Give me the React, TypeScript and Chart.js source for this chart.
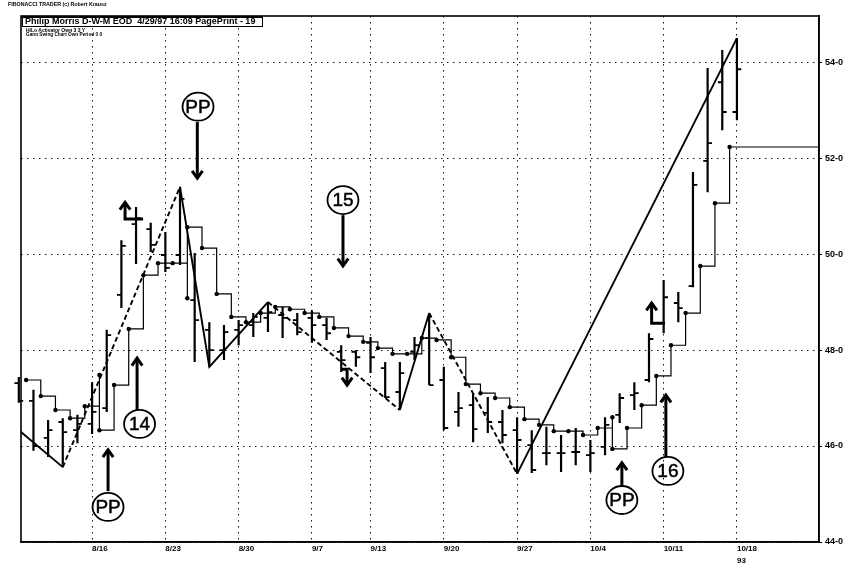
import React, { useEffect, useRef } from 'react';
import { Chart, registerables } from 'chart.js';

Chart.register(...registerables);

// ---------- data ----------
const dates = ['8/9','8/10','8/11','8/12','8/13','8/16','8/17','8/18','8/19','8/20','8/23','8/24','8/25','8/26','8/27','8/30','8/31','9/1','9/2','9/3','9/7','9/8','9/9','9/10','9/13','9/14','9/15','9/16','9/17','9/20','9/21','9/22','9/23','9/24','9/27','9/28','9/29','9/30','10/1','10/4','10/5','10/6','10/7','10/8','10/11','10/12','10/13','10/14','10/15','10/18'];

const opens = [47.31,46.94,46.17,46.50,46.33,46.46,46.79,49.15,50.625,50.52,49.98,49.98,49.04,48.42,48.0,48.42,48.52,48.67,48.73,48.625,48.67,48.52,47.96,47.96,48.15,47.625,47.125,47.96,48.25,47.375,46.71,46.85,46.69,46.50,46.33,46.02,45.85,45.85,45.875,45.81,45.98,46.65,47.06,47.375,48.56,48.98,49.33,51.94,53.58,52.96];
const highs = [47.44,47.17,46.54,46.58,46.65,47.33,48.42,50.29,50.98,50.65,50.46,51.40,50.02,48.58,48.52,48.625,48.77,49.0,48.90,48.77,48.83,48.67,48.10,48.0,48.27,47.75,47.75,48.27,48.77,47.65,47.125,47.10,47.02,46.75,46.60,46.33,46.40,46.23,46.375,46.125,46.60,47.10,47.33,48.35,49.46,49.21,51.71,53.875,54.25,54.5];
const lows = [46.90,45.90,45.77,45.56,46.06,46.25,46.71,48.875,49.79,50.04,49.625,49.77,47.75,47.65,47.79,48.10,48.27,48.375,48.25,48.31,48.15,48.21,47.54,47.65,47.52,47.0,46.75,47.79,47.27,46.33,46.40,46.08,46.27,46.06,45.42,45.44,45.60,45.46,45.60,45.46,45.81,46.48,46.75,47.33,48.35,48.58,49.31,51.29,52.58,52.79];
const closes = [46.94,46.0,46.33,46.29,46.46,46.71,48.31,50.17,50.75,50.19,49.71,51.15,48.625,48.0,48.375,48.52,48.69,48.79,48.67,48.375,48.52,48.35,47.79,47.85,47.85,47.02,47.52,48.10,47.27,46.375,46.79,46.35,46.50,46.23,46.125,45.5,45.85,45.85,45.875,45.85,46.44,47.0,47.10,48.23,49.10,48.875,51.44,52.31,52.96,53.85];

const xTickDates = ['8/16','8/23','8/30','9/7','9/13','9/20','9/27','10/4','10/11','10/18'];
const yearLabel = '93';
const yTicks = [44, 46, 48, 50, 52, 54];

// HiLo activator (bar index at which each step point sits, value)
const stairAt = [0,1,2,3,4,5,5,6,7,8,9,10,11,11,12,13,14,15,16,17,18,19,20,21,22,23,24,25,26,27,28,29,30,31,32,33,34,35,36,37,38,39,40,40,41,42,43,44,45,46,47,48];
const stairValue = [47.375,47.04,46.75,46.58,46.83,47.48,46.33,47.27,48.44,49.56,49.81,49.81,49.08,50.56,50.125,49.17,48.69,48.58,48.77,48.90,48.85,48.77,48.69,48.46,48.29,48.17,48.04,47.92,47.92,48.25,48.21,47.85,47.29,47.10,47.0,46.81,46.56,46.44,46.31,46.31,46.23,46.375,46.60,45.94,46.375,46.85,47.46,48.10,48.77,49.75,51.06,52.23];

// Gann swing chart
const swingAt = [0, 3, 11, 13, 17, 26, 28, 34, 49];
const swingValue = [46.33, 45.56, 51.40, 47.65, 49.0, 46.75, 48.77, 45.42, 54.5];
const swingDashed = [false, true, false, false, true, false, true, false];

// hand-drawn notes (data coordinates: bar index, price)
const noteLabels = ['PP', '14', 'PP', '15', 'PP', '16'];
const noteX = [12.23, 8.24, 6.09, 22.12, 41.15, 44.29];
const noteY = [53.07, 46.46, 44.73, 51.125, 44.875, 45.48];
const noteArrows: number[][][] = [
  [[12.18, 52.75], [12.18, 51.58]],
  [[8.07, 46.75], [8.07, 47.83]],
  [[6.09, 45.06], [6.09, 45.92]],
  [[22.12, 50.81], [22.12, 49.75]],
  [[41.15, 45.17], [41.15, 45.65]],
  [[44.15, 45.77], [44.15, 47.06]],
  [[8.48, 50.73], [7.25, 50.73], [7.25, 51.08]],
  [[44.09, 48.56], [43.18, 48.56], [43.18, 48.98]],
  [[22.0, 47.60], [22.4, 47.60], [22.4, 47.27]],
];

// ---------- settings ----------
const X_MIN = 0.15;
const X_MAX = 54.6;
const TICK = 0.3;
const STAIR_SHIFT = 0.5;
const FONT = '"Liberation Sans", Arial, Helvetica, sans-serif';

const framePlugin = {
  id: 'frame',
  afterDraw(chart: any) {
    const { ctx, chartArea: { left, top, right, bottom } } = chart;
    ctx.save();
    ctx.strokeStyle = '#000';
    ctx.lineWidth = 1.6;
    ctx.strokeRect(left, top, right - left, bottom - top);
    ctx.restore();
  },
};

const notesPlugin = {
  id: 'notes',
  afterDatasetsDraw(chart: any) {
    const { ctx, scales } = chart;
    const xs = scales.x, ys = scales.y;
    ctx.save();
    ctx.strokeStyle = '#000';
    ctx.fillStyle = '#000';
    noteLabels.forEach((lab, i) => {
      const px = xs.getPixelForValue(noteX[i]);
      const py = ys.getPixelForValue(noteY[i]);
      ctx.lineWidth = 1.8;
      ctx.beginPath();
      ctx.ellipse(px, py, 15.5, 14, 0, 0, Math.PI * 2);
      ctx.stroke();
      ctx.font = `19px ${FONT}`;
      ctx.textAlign = 'center';
      ctx.textBaseline = 'middle';
      ctx.fillText(lab, px, py + 1);
      ctx.lineWidth = 0.5;
      ctx.strokeText(lab, px, py + 1);
    });
    noteArrows.forEach((a) => {
      const pts = a.map(([vx, vy]) => [xs.getPixelForValue(vx), ys.getPixelForValue(vy)]);
      ctx.lineWidth = 3;
      ctx.lineCap = 'butt';
      ctx.lineJoin = 'miter';
      ctx.beginPath();
      pts.forEach(([px, py], i) => (i ? ctx.lineTo(px, py) : ctx.moveTo(px, py)));
      ctx.stroke();
      const [tx, ty] = pts[pts.length - 1];
      const [sx, sy] = pts[pts.length - 2];
      const ang = Math.atan2(ty - sy, tx - sx);
      const L = 9, W = 0.62;
      ctx.beginPath();
      ctx.moveTo(tx - L * Math.cos(ang - W), ty - L * Math.sin(ang - W));
      ctx.lineTo(tx, ty);
      ctx.lineTo(tx - L * Math.cos(ang + W), ty - L * Math.sin(ang + W));
      ctx.stroke();
    });
    ctx.restore();
  },
};

export default function App() {
  const ref = useRef<HTMLCanvasElement | null>(null);

  useEffect(() => {
    if (!ref.current) return;
    const hl: any[] = [];
    const op: any[] = [];
    const cl: any[] = [];
    dates.forEach((_, i) => {
      hl.push({ x: i, y: lows[i] }, { x: i, y: highs[i] }, { x: null, y: null });
      op.push({ x: i - TICK, y: opens[i] }, { x: i, y: opens[i] }, { x: null, y: null });
      cl.push({ x: i, y: closes[i] }, { x: i + TICK, y: closes[i] }, { x: null, y: null });
    });
    const stair = stairAt.map((a, k) => ({ x: a + STAIR_SHIFT, y: stairValue[k] }));
    stair.push({ x: X_MAX, y: stairValue[stairValue.length - 1] });
    const swing = swingAt.map((a, k) => ({ x: a, y: swingValue[k] }));
    const tickIdx = xTickDates.map((d) => dates.indexOf(d));

    const chart = new Chart(ref.current, {
      type: 'line',
      data: {
        datasets: [
          {
            label: 'swing', data: swing, borderColor: '#000', borderWidth: 1.9, pointRadius: 0,
            segment: { borderDash: (c: any) => (swingDashed[c.p0DataIndex] ? [5, 3] : undefined) },
          } as any,
          {
            label: 'hilo', data: stair, borderColor: '#000', borderWidth: 1.2, stepped: 'before',
            pointRadius: (c: any) => (c.dataIndex === stair.length - 1 ? 0 : 2.2),
            pointBackgroundColor: '#000', pointBorderWidth: 0,
          } as any,
          { label: 'hl', data: hl, borderColor: '#000', borderWidth: 2.2, pointRadius: 0, clip: false } as any,
          { label: 'open', data: op, borderColor: '#000', borderWidth: 1.8, pointRadius: 0, clip: false } as any,
          { label: 'close', data: cl, borderColor: '#000', borderWidth: 1.8, pointRadius: 0, clip: false } as any,
        ],
      },
      options: {
        animation: false,
        responsive: false,
        devicePixelRatio: 1,
        events: [],
        layout: { padding: { left: 21, top: 16, right: 0, bottom: 0 } },
        plugins: { legend: { display: false }, tooltip: { enabled: false } },
        scales: {
          x: {
            type: 'linear',
            position: 'bottom',
            min: X_MIN,
            max: X_MAX,
            afterBuildTicks: (s: any) => { s.ticks = tickIdx.map((v) => ({ value: v })); },
            afterFit: (s: any) => { s.height = 26; },
            ticks: {
              autoSkip: false,
              maxRotation: 0,
              align: 'start',
              padding: 1,
              color: '#000',
              font: { family: FONT, size: 8, weight: 'bold', lineHeight: 1.5 },
              callback: (_v: any, i: number) =>
                i === tickIdx.length - 1 ? [xTickDates[i], yearLabel] : xTickDates[i],
            },
            grid: { color: '#111', lineWidth: 1, drawTicks: false, tickLength: 0 },
            border: { display: true, color: '#000', width: 1.6, dash: [1.5, 4.5] },
          },
          y: {
            type: 'linear',
            position: 'right',
            min: 44,
            max: 54.96,
            afterBuildTicks: (s: any) => { s.ticks = yTicks.map((v) => ({ value: v })); },
            afterFit: (s: any) => { s.width = 48; },
            ticks: {
              padding: 3,
              color: '#000',
              font: { family: FONT, size: 9, weight: 'bold' },
              callback: (v: any) => `${v}-0`,
            },
            grid: { color: '#111', lineWidth: 1, tickLength: 3, tickColor: '#000', tickWidth: 1 },
            border: { display: true, color: '#000', width: 1.6, dash: [1.5, 4.5] },
          },
        },
      } as any,
      plugins: [framePlugin, notesPlugin],
    });
    return () => chart.destroy();
  }, []);

  const small = (extra: any) => ({
    position: 'absolute' as const,
    fontFamily: FONT,
    fontWeight: 'bold' as const,
    fontSize: '10px',
    lineHeight: '10px',
    whiteSpace: 'pre' as const,
    transformOrigin: '0 0',
    color: '#000',
    ...extra,
  });

  return (
    <div style={{ position: 'fixed', left: 0, top: 0, width: 867, height: 568, background: '#fff', overflow: 'hidden' }}>
      <canvas ref={ref} width={867} height={568} style={{ position: 'absolute', left: 0, top: 0, width: 867, height: 568 }} />
      <div style={small({ left: 8, top: 2, transform: 'scale(0.53)' })}>FIBONACCI TRADER (c) Robert Krausz</div>
      <div style={{ position: 'absolute', left: 22, top: 16, width: 241, height: 11, border: '1.5px solid #000', borderTopWidth: 2, background: '#fff', boxSizing: 'border-box' }}>
        <div style={{ position: 'absolute', left: 2, top: -1, fontFamily: FONT, fontWeight: 'bold', fontSize: '9px', lineHeight: '9px', whiteSpace: 'pre', color: '#000' }}>
          {'Philip Morris D-W-M EOD  4/29/97 16:09 PagePrint - 19'}
        </div>
      </div>
      <div style={small({ left: 26, top: 27.5, transform: 'scale(0.5)' })}>HiLo Activator Own 3 3 Y</div>
      <div style={small({ left: 26, top: 32, transform: 'scale(0.47)' })}>Gann Swing Chart Own Period 0 0</div>
    </div>
  );
}
